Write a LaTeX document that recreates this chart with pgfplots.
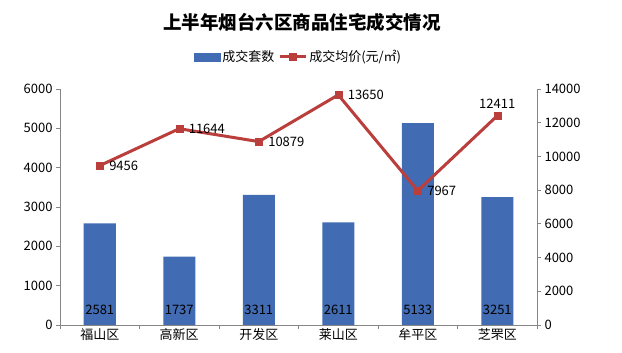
\documentclass[border=0pt]{standalone}
\usepackage{pgfplots}
\pgfplotsset{compat=1.18}
\usepackage{fontspec}
\setmainfont{Noto Sans CJK SC}
\definecolor{barblue}{RGB}{65,107,178}
\definecolor{linered}{RGB}{185,62,60}
\definecolor{axgray}{RGB}{134,134,134}
\begin{document}
\begin{tikzpicture}[x=1pt,y=1pt]
\useasboundingbox (0,0) rectangle (622,353);
\node[font=\fontsize{18.5}{20}\selectfont\bfseries] at (302,331) {上半年烟台六区商品住宅成交情况};
\pgfplotsset{
  common/.style={
    at={(60pt,28pt)}, anchor=south west,
    scale only axis, width=477pt, height=236pt,
    xmin=-0.5, xmax=5.5,
    ymin=0,
    tick align=outside,
    major tick length=4pt,
    tick style={axgray, line width=0.8pt},
    axis line style={axgray, line width=0.8pt},
    ticklabel style={font=\fontsize{13}{14}\selectfont, black},
    scaled y ticks=false,
    /pgf/number format/assume math mode=true,
    /pgf/number format/1000 sep={},
    clip=false,
  }
}
\begin{axis}[common,
  ymax=6000, ytick={0,1000,...,6000},
  axis y line*=left, axis x line*=bottom,
  xtick={-0.5,0.5,...,5.5}, xticklabels={},
  extra x ticks={0,1,2,3,4,5},
  extra x tick labels={福山区,高新区,开发区,莱山区,牟平区,芝罘区},
  extra x tick style={major tick length=0pt},
]
\addplot[ybar, bar width=32pt, fill=barblue, draw=none] coordinates {(0,2581) (1,1737) (2,3311) (3,2611) (4,5133) (5,3251)};
\addplot[draw=none, mark=none, nodes near coords, point meta=explicit symbolic,
  nodes near coords style={font=\fontsize{13}{14}\selectfont, anchor=center, black}]
  coordinates {(0,380)[2581] (1,380)[1737] (2,380)[3311] (3,380)[2611] (4,380)[5133] (5,380)[3251]};
\end{axis}
\begin{axis}[common,
  ymax=14000, ytick={0,2000,...,14000},
  axis y line*=right, axis x line=none,
  legend style={at={(0.5,1.136)}, anchor=center, draw=none, fill=none, legend columns=2,
    font=\fontsize{13}{14}\selectfont, /tikz/every even column/.append style={column sep=2pt}},
]
\addlegendimage{legend image code/.code={\fill[barblue] (0pt,-4pt) rectangle (26pt,4pt);}}
\addlegendentry{成交套数}
\addlegendimage{legend image code/.code={\draw[linered, line width=3pt] (0pt,0pt) -- (26pt,0pt); \fill[linered] (9.5pt,-3.5pt) rectangle (16.5pt,3.5pt);}}
\addlegendentry{成交均价(元/㎡)}
\addplot[linered, line width=3pt, mark=square*, mark size=3.5pt, mark options={fill=linered, draw=linered, line width=0.5pt}] coordinates {(0,9456) (1,11644) (2,10879) (3,13650) (4,7967) (5,12411)};
\addplot[draw=none, mark=none, nodes near coords, point meta=explicit symbolic,
  nodes near coords style={font=\fontsize{13}{14}\selectfont, anchor=west, xshift=6pt, yshift=0pt, black}]
  coordinates {(0,9456)[9456] (1,11644)[11644] (2,10879)[10879] (3,13650)[13650] (4,7967)[7967]};
\addplot[draw=none, mark=none, nodes near coords, point meta=explicit symbolic,
  nodes near coords style={font=\fontsize{13}{14}\selectfont, anchor=south, yshift=4pt, black}]
  coordinates {(5,12411)[12411]};
\end{axis}
\end{tikzpicture}
\end{document}
